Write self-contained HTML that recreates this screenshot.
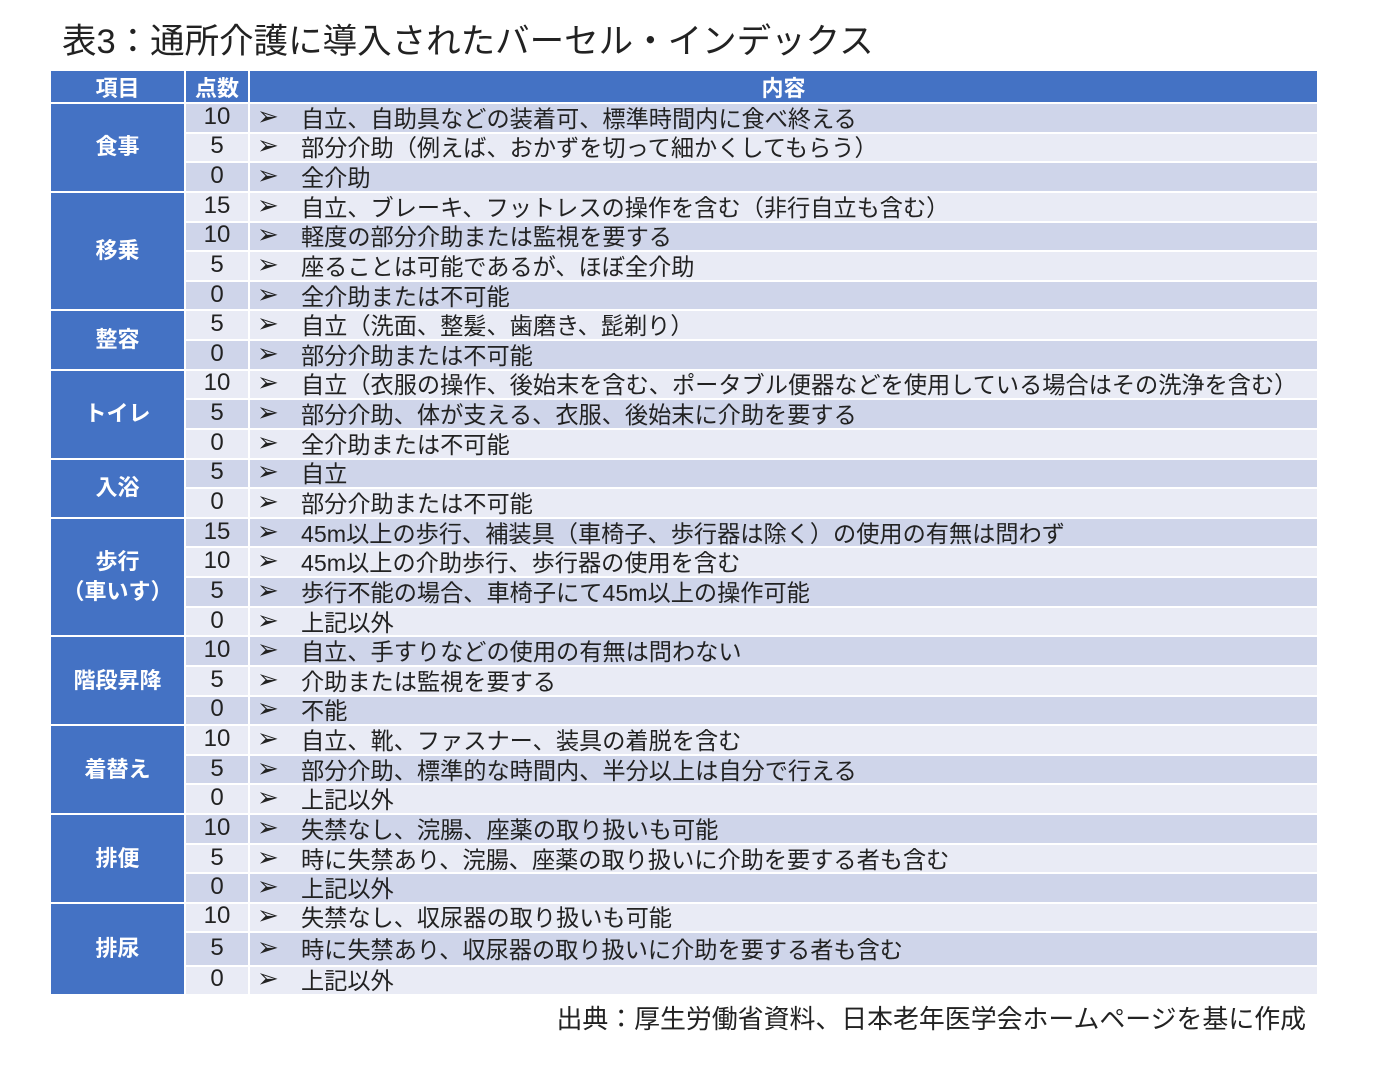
<!DOCTYPE html>
<html><head><meta charset="utf-8">
<style>
body{margin:0;background:#fff;width:1374px;height:1074px;position:relative;overflow:hidden;font-family:"Liberation Sans","Noto Sans CJK JP",sans-serif;}
.abs{position:absolute;box-sizing:border-box;}
.title{left:62px;top:13px;font-size:34.5px;color:#222;white-space:nowrap;}
.hdr{background:#4472c4;color:#fff;font-weight:bold;font-size:22px;display:flex;align-items:center;justify-content:center;}
.grp{background:#4472c4;color:#fff;font-weight:bold;font-size:22px;display:flex;align-items:center;justify-content:center;text-align:center;line-height:30px;}
.cell{font-size:23.2px;color:#222;display:flex;align-items:center;white-space:nowrap;padding-bottom:2px;}
.src{right:68px;top:999px;font-size:25.9px;color:#222;white-space:nowrap;}
</style></head><body>
<div class="abs title">表3：通所介護に導入されたバーセル・インデックス</div>
<div class="abs hdr" style="left:51px;top:71px;width:133px;height:31px">項目</div>
<div class="abs hdr" style="left:186px;top:71px;width:62px;height:31px">点数</div>
<div class="abs hdr" style="left:250px;top:71px;width:1067px;height:31px">内容</div>
<div id="tbl"></div>
<div class="abs src">出典：厚生労働省資料、日本老年医学会ホームページを基に作成</div>
<script>
const groups=["食事","移乗","整容","トイレ","入浴","歩行<br>（車いす）","階段昇降","着替え","排便","排尿"];
const groupSizes=[3,4,2,3,2,4,3,3,3,3];
const points=[10,5,0,15,10,5,0,5,0,10,5,0,5,0,15,10,5,0,10,5,0,10,5,0,10,5,0,10,5,0];
const contents=["自立、自助具などの装着可、標準時間内に食べ終える","部分介助（例えば、おかずを切って細かくしてもらう）","全介助",
"自立、ブレーキ、フットレスの操作を含む（非行自立も含む）","軽度の部分介助または監視を要する","座ることは可能であるが、ほぼ全介助","全介助または不可能",
"自立（洗面、整髪、歯磨き、髭剃り）","部分介助または不可能",
"自立（衣服の操作、後始末を含む、ポータブル便器などを使用している場合はその洗浄を含む）","部分介助、体が支える、衣服、後始末に介助を要する","全介助または不可能",
"自立","部分介助または不可能",
"45m以上の歩行、補装具（車椅子、歩行器は除く）の使用の有無は問わず","45m以上の介助歩行、歩行器の使用を含む","歩行不能の場合、車椅子にて45m以上の操作可能","上記以外",
"自立、手すりなどの使用の有無は問わない","介助または監視を要する","不能",
"自立、靴、ファスナー、装具の着脱を含む","部分介助、標準的な時間内、半分以上は自分で行える","上記以外",
"失禁なし、浣腸、座薬の取り扱いも可能","時に失禁あり、浣腸、座薬の取り扱いに介助を要する者も含む","上記以外",
"失禁なし、収尿器の取り扱いも可能","時に失禁あり、収尿器の取り扱いに介助を要する者も含む","上記以外"];
const tbl=document.getElementById('tbl');
const tops=[];let y=104;
for(let i=0;i<points.length;i++){tops.push(y);let h=(i<27)?29.63:(i===27?28.5:(i===28?34:29.5));y+=h;}
tops.push(y);
for(let i=0;i<points.length;i++){
  const t=tops[i],h=tops[i+1]-tops[i]-2;
  const bg=(i%2===0)?'#cfd5ea':'#e9ebf5';
  const p=document.createElement('div');p.className='abs cell';
  
  
  p.style.cssText=`left:186px;top:${t}px;width:62px;height:${h}px;background:${bg};justify-content:center;font-size:24px`;
  p.textContent=points[i];tbl.appendChild(p);
  const c=document.createElement('div');c.className='abs cell';
  
  
  c.style.cssText=`left:250px;top:${t}px;width:1067px;height:${h}px;background:${bg};padding-left:7px`;
  c.innerHTML='<span style="display:inline-block;width:44px;font-size:26px;font-family:\'DejaVu Sans\',sans-serif;line-height:1">➢</span>'+contents[i];
  tbl.appendChild(c);
}
let r=0;
for(let g=0;g<groups.length;g++){
  const t=tops[r],b=tops[r+groupSizes[g]]-2;
  const d=document.createElement('div');d.className='abs grp';
  
  
  d.style.cssText=`left:51px;top:${t}px;width:133px;height:${b-t}px`;
  d.innerHTML=groups[g];tbl.appendChild(d);
  r+=groupSizes[g];
}
</script>
</body></html>
